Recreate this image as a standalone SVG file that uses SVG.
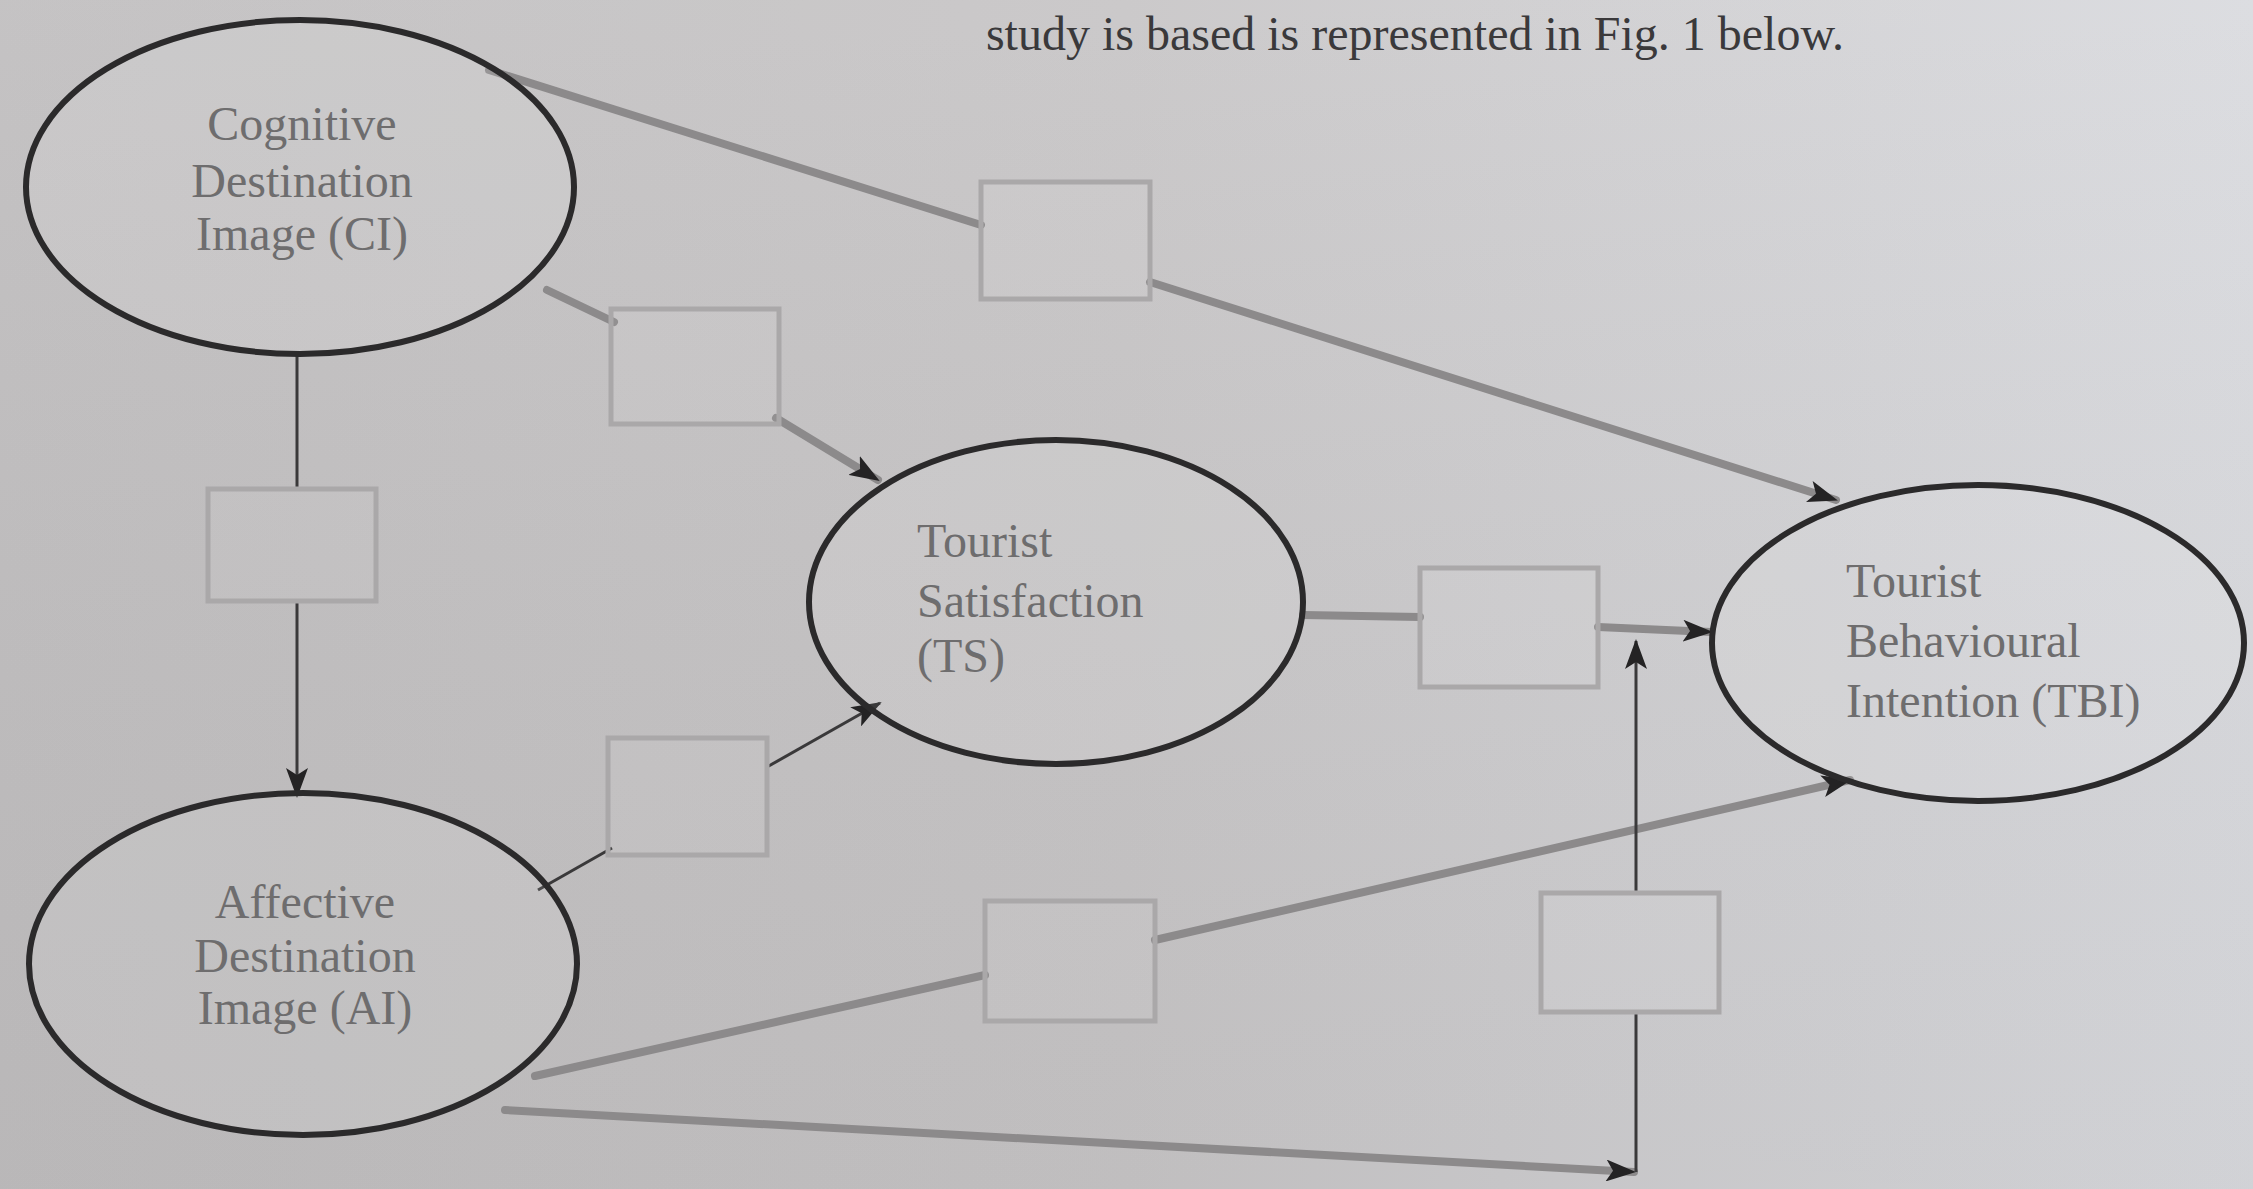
<svg xmlns="http://www.w3.org/2000/svg" width="2253" height="1189" viewBox="0 0 2253 1189">
  <defs>
    <linearGradient id="bg" x1="0" y1="0" x2="1" y2="0">
      <stop offset="0" stop-color="#c1bfc0"/>
      <stop offset="0.5" stop-color="#c8c6c7"/>
      <stop offset="1" stop-color="#dadbdf"/>
    </linearGradient>
    <linearGradient id="shade" x1="0" y1="0" x2="0" y2="1">
      <stop offset="0" stop-color="#ffffff" stop-opacity="0.06"/>
      <stop offset="1" stop-color="#000000" stop-opacity="0.04"/>
    </linearGradient>
    <marker id="arr" viewBox="0 0 30 22" markerUnits="userSpaceOnUse" markerWidth="30" markerHeight="22" refX="28" refY="11" orient="auto">
      <path d="M0,0 L30,11 L0,22 L7,11 z" fill="#242324"/>
    </marker>
    <style>
      .node ellipse { fill: #ffffff; fill-opacity: 0.1; stroke: #2b2a2b; stroke-width: 6; }
      .lbl { font-family: "Liberation Serif", "Times New Roman", serif; font-size: 48px; fill: #6e6d6e; }
      .box { fill: #ffffff; fill-opacity: 0.06; stroke: #aaa8a9; stroke-width: 5; }
      .thick { fill: none; stroke: #8c8a8b; stroke-width: 8; stroke-linecap: round; }
      .thin { fill: none; stroke: #3a393a; stroke-width: 3; }
      .title { font-family: "Liberation Serif", "Times New Roman", serif; font-size: 48px; fill: #3a393b; }
    </style>
  </defs>

  <rect x="0" y="0" width="2253" height="1189" fill="url(#bg)"/>
  <rect x="0" y="0" width="2253" height="1189" fill="url(#shade)"/>

  <text class="title" x="1844" y="50" text-anchor="end">study is based is represented in Fig. 1 below.</text>

  <g id="connectors">
    <!-- CI -> TBI (via box1) -->
    <line class="thick" x1="489" y1="70" x2="981" y2="225"/>
    <line class="thick" x1="1150" y1="282" x2="1836" y2="500" marker-end="url(#arr)"/>
    <!-- CI -> TS (via box2) -->
    <line class="thick" x1="547" y1="290" x2="614" y2="322"/>
    <line class="thick" x1="776" y1="418" x2="878" y2="480" marker-end="url(#arr)"/>
    <!-- CI -> AI (via box3) -->
    <line class="thin" x1="297" y1="353" x2="297" y2="489"/>
    <line class="thin" x1="297" y1="601" x2="297" y2="796" marker-end="url(#arr)"/>
    <!-- TS -> TBI (via box4) -->
    <line class="thick" x1="1303" y1="615" x2="1420" y2="617"/>
    <line class="thick" x1="1598" y1="627" x2="1711" y2="632" marker-end="url(#arr)"/>
    <!-- AI -> TS (via box5) -->
    <line class="thin" x1="538" y1="890" x2="612" y2="848"/>
    <line class="thin" x1="767" y1="767" x2="880" y2="703" marker-end="url(#arr)"/>
    <!-- AI -> TBI (via box6) -->
    <line class="thick" x1="535" y1="1076" x2="985" y2="975"/>
    <line class="thick" x1="1155" y1="940" x2="1850" y2="780" marker-end="url(#arr)"/>
    <!-- AI -> moderating path (via box7) -->
    <line class="thick" x1="505" y1="1110" x2="1634" y2="1172" marker-end="url(#arr)"/>
    <line class="thin" x1="1636" y1="1172" x2="1636" y2="1012"/>
    <line class="thin" x1="1636" y1="893" x2="1636" y2="641" marker-end="url(#arr)"/>
  </g>

  <g id="box1"><rect class="box" x="981" y="182" width="169" height="117"/></g>
  <g id="box2"><rect class="box" x="611" y="309" width="168" height="115"/></g>
  <g id="box3"><rect class="box" x="208" y="489" width="168" height="112"/></g>
  <g id="box4"><rect class="box" x="1420" y="568" width="178" height="119"/></g>
  <g id="box5"><rect class="box" x="608" y="738" width="159" height="117"/></g>
  <g id="box6"><rect class="box" x="985" y="901" width="170" height="120"/></g>
  <g id="box7"><rect class="box" x="1541" y="893" width="178" height="119"/></g>

  <g id="ci" class="node">
    <ellipse cx="300" cy="187" rx="274" ry="167"/>
    <text class="lbl" x="302" y="140" text-anchor="middle">Cognitive</text>
    <text class="lbl" x="302" y="197" text-anchor="middle">Destination</text>
    <text class="lbl" x="302" y="250" text-anchor="middle">Image (CI)</text>
  </g>

  <g id="ai" class="node">
    <ellipse cx="303" cy="964" rx="274" ry="171"/>
    <text class="lbl" x="305" y="918" text-anchor="middle">Affective</text>
    <text class="lbl" x="305" y="972" text-anchor="middle">Destination</text>
    <text class="lbl" x="305" y="1024" text-anchor="middle">Image (AI)</text>
  </g>

  <g id="ts" class="node">
    <ellipse cx="1056" cy="602" rx="247" ry="162"/>
    <text class="lbl" x="917" y="557">Tourist</text>
    <text class="lbl" x="917" y="617">Satisfaction</text>
    <text class="lbl" x="917" y="672">(TS)</text>
  </g>

  <g id="tbi" class="node">
    <ellipse cx="1978" cy="643" rx="266" ry="158"/>
    <text class="lbl" x="1846" y="597">Tourist</text>
    <text class="lbl" x="1846" y="657">Behavioural</text>
    <text class="lbl" x="1846" y="717">Intention (TBI)</text>
  </g>
</svg>
